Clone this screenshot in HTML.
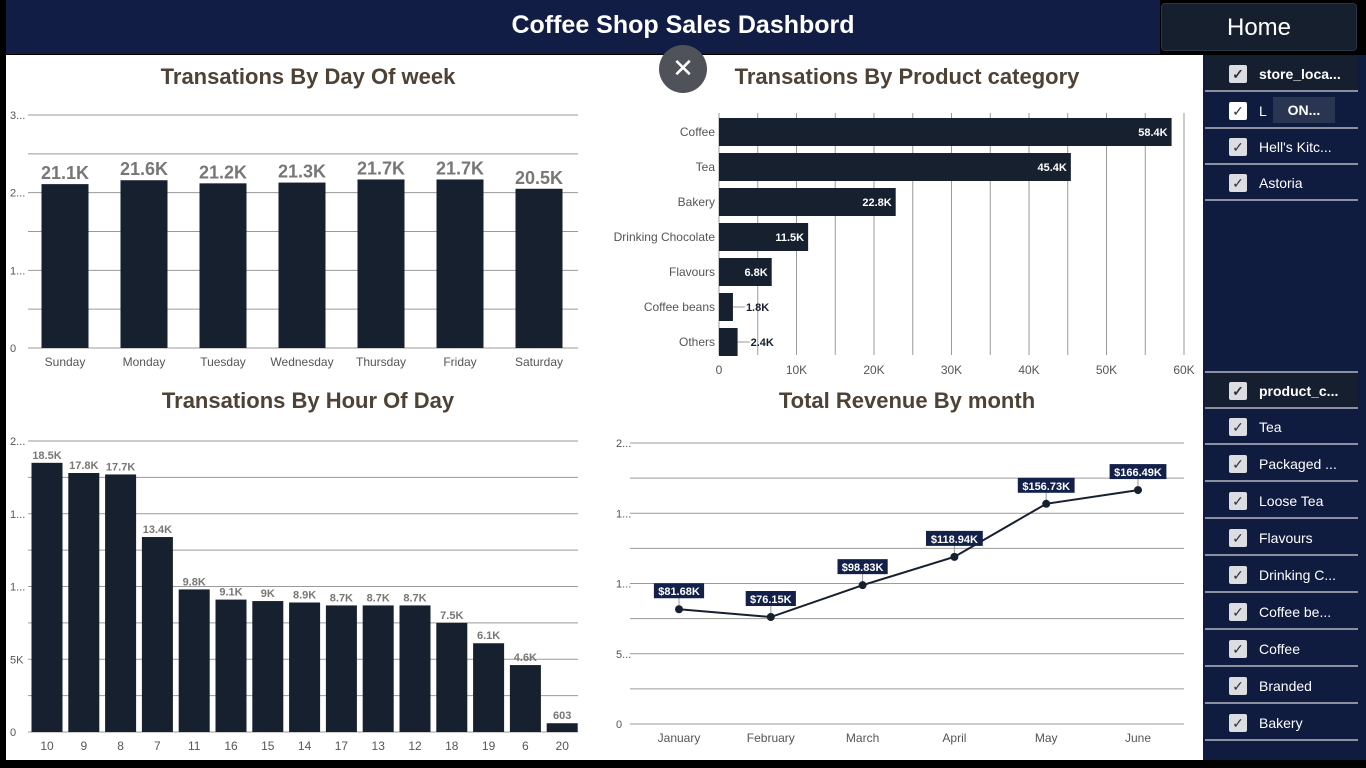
<!DOCTYPE html>
<html><head><meta charset="utf-8"><style>
body{margin:0;width:1366px;height:768px;background:#000;position:relative;overflow:hidden;font-family:"Liberation Sans",sans-serif}
.hdr{position:absolute;left:6px;top:0;width:1154px;height:54px;background:#111d45}
.hdrt{position:absolute;left:0;top:0;width:1366px;height:50px;color:#fff;font-weight:bold;font-size:25px;text-align:center;line-height:50px}
.home{position:absolute;left:1161px;top:3px;width:196px;height:48px;background:#161f2e;border:1px solid #2c3546;border-radius:4px;color:#fff;font-size:24px;text-align:center;line-height:48px;box-sizing:border-box}
.main{position:absolute;left:6px;top:55px;width:1197px;height:705px;background:#fff}
.panel{position:absolute;left:1203px;top:55px;width:163px;height:705px;background:#101b40}
.item{position:absolute;left:2px;width:153px;height:36px;border-bottom:2px solid #8a90a0;color:#fff;font-size:14px;line-height:36px;box-sizing:border-box}
.item .cb{position:absolute;left:24px;top:9px;width:18px;height:18px;background:#dcdde2;border-radius:2px;color:#333;font-size:14px;line-height:18px;text-align:center}
.item span.t{position:absolute;left:54px}
.sh{background:#161f30;font-weight:bold}
.close{position:absolute;left:659px;top:45px;width:48px;height:48px;border-radius:50%;background:#505259;color:#fff;font-size:26px;text-align:center;line-height:46px}
svg text{font-family:"Liberation Sans",sans-serif}
</style></head><body>
<div class="hdr"></div>
<div class="hdrt">Coffee Shop Sales Dashbord</div>
<div class="home">Home</div>
<div class="main"></div>
<svg id="s" width="1366" height="768" style="position:absolute;left:0;top:0"></svg>
<div class="close">✕</div>
<div class="panel">
 <div class="item sh" style="top:1px"><div class="cb">✓</div><span class="t">store_loca...</span></div>
 <div class="item" style="top:38px"><div class="cb" style="background:#fff">✓</div><span class="t">L</span><span style="position:absolute;left:68px;top:4px;width:62px;height:26px;background:#2a3552;line-height:26px;text-align:center;font-weight:bold">ON...</span></div>
 <div class="item" style="top:74px"><div class="cb">✓</div><span class="t">Hell's Kitc...</span></div>
 <div class="item" style="top:110px"><div class="cb">✓</div><span class="t">Astoria</span></div>
 <div class="item" style="top:282px;height:36px;border-bottom:2px solid #8a90a0"></div>
 <div class="item sh" style="top:318px"><div class="cb">✓</div><span class="t">product_c...</span></div>
 <div class="item" style="top:354px"><div class="cb">✓</div><span class="t">Tea</span></div>
 <div class="item" style="top:391px"><div class="cb">✓</div><span class="t">Packaged ...</span></div>
 <div class="item" style="top:428px"><div class="cb">✓</div><span class="t">Loose Tea</span></div>
 <div class="item" style="top:465px"><div class="cb">✓</div><span class="t">Flavours</span></div>
 <div class="item" style="top:502px"><div class="cb">✓</div><span class="t">Drinking C...</span></div>
 <div class="item" style="top:539px"><div class="cb">✓</div><span class="t">Coffee be...</span></div>
 <div class="item" style="top:576px"><div class="cb">✓</div><span class="t">Coffee</span></div>
 <div class="item" style="top:613px"><div class="cb">✓</div><span class="t">Branded</span></div>
 <div class="item" style="top:650px"><div class="cb">✓</div><span class="t">Bakery</span></div>
</div>
<script>
const dayCats=["Sunday","Monday","Tuesday","Wednesday","Thursday","Friday","Saturday"];
const dayVals=[21.1,21.6,21.2,21.3,21.7,21.7,20.5];
const dayLabels=["21.1K","21.6K","21.2K","21.3K","21.7K","21.7K","20.5K"];
const catNames=["Coffee","Tea","Bakery","Drinking Chocolate","Flavours","Coffee beans","Others"];
const catVals=[58.4,45.4,22.8,11.5,6.8,1.8,2.4];
const catLabels=["58.4K","45.4K","22.8K","11.5K","6.8K","1.8K","2.4K"];
const catTicks=["0","10K","20K","30K","40K","50K","60K"];
const hourCats=["10","9","8","7","11","16","15","14","17","13","12","18","19","6","20"];
const hourVals=[18.5,17.8,17.7,13.4,9.8,9.1,9.0,8.9,8.7,8.7,8.7,7.5,6.1,4.6,0.603];
const hourLabels=["18.5K","17.8K","17.7K","13.4K","9.8K","9.1K","9K","8.9K","8.7K","8.7K","8.7K","7.5K","6.1K","4.6K","603"];
const months=["January","February","March","April","May","June"];
const revVals=[81.68,76.15,98.83,118.94,156.73,166.49];
const revLabels=["$81.68K","$76.15K","$98.83K","$118.94K","$156.73K","$166.49K"];
const s=document.getElementById('s');const NS="http://www.w3.org/2000/svg";
function el(t,a,txt){const e=document.createElementNS(NS,t);for(const k in a)e.setAttribute(k,a[k]);if(txt!==undefined)e.textContent=txt;s.appendChild(e);return e;}
const title="#4e4236",dark="#16202f",grid="#9a9a9a",lbl="#555";
function T(x,y,t,n){const e=el('text',{x:x,y:y,'text-anchor':'middle','font-size':22,'font-weight':'bold',fill:title},t);}
T(308,84,"Transations By Day Of week","day-chart-title");
T(907,84,"Transations By Product category","category-chart-title");
T(308,408,"Transations By Hour Of Day","hour-chart-title");
T(907,408,"Total Revenue By month","revenue-chart-title");
// chart1
{const y0=348,y1=115,max=30,x0=28,x1=578;const Y=v=>y0-v/max*(y0-y1);
for(let i=0;i<=6;i++){const v=i*5;el('line',{x1:x0,x2:x1,y1:Y(v),y2:Y(v),stroke:grid,'stroke-width':1});}
[["0",0],["1...",10],["2...",20],["3...",30]].forEach(t=>el('text',{x:10,y:Y(t[1])+4,'font-size':11,fill:lbl},t[0]));
const step=79;dayCats.forEach((c,i)=>{const cx=65+i*step;const b=el('rect',{x:cx-23.5,y:Y(dayVals[i]),width:47,height:y0-Y(dayVals[i]),fill:dark});

el('text',{x:cx,y:Y(dayVals[i])-5,'text-anchor':'middle','font-size':18,'font-weight':'bold',fill:'#777'},dayLabels[i]);
el('text',{x:cx,y:366,'text-anchor':'middle','font-size':12,fill:lbl},c);});}
// chart2
{const x0=719,x1=1184,max=60,top=113,bot=355;const X=v=>x0+v/max*(x1-x0);
for(let v=0;v<=60;v+=5)el('line',{x1:X(v),x2:X(v),y1:top,y2:bot,stroke:grid,'stroke-width':1});
catTicks.forEach((t,i)=>el('text',{x:X(i*10),y:374,'text-anchor':'middle','font-size':12,fill:lbl},t));
catNames.forEach((c,i)=>{const cy=132+i*35;const w=X(catVals[i])-x0;const b=el('rect',{x:x0,y:cy-14,width:w,height:28,fill:dark});

el('text',{x:x0-4,y:cy+4,'text-anchor':'end','font-size':12,fill:lbl},c);
if(w>40)el('text',{x:X(catVals[i])-4,y:cy+4,'text-anchor':'end','font-size':11,'font-weight':'bold',fill:'#fff'},catLabels[i]);
else{el('line',{x1:X(catVals[i]),x2:X(catVals[i])+12,y1:cy,y2:cy,stroke:'#999'});el('text',{x:X(catVals[i])+13,y:cy+4,'font-size':11,'font-weight':'bold',fill:dark},catLabels[i]);}});}
// chart3
{const y0=732,y1=441,max=20,x0=28,x1=578;const Y=v=>y0-v/max*(y0-y1);
for(let v=0;v<=20;v+=2.5)el('line',{x1:x0,x2:x1,y1:Y(v),y2:Y(v),stroke:grid,'stroke-width':1});
[["0",0],["5K",5],["1...",10],["1...",15],["2...",20]].forEach(t=>el('text',{x:10,y:Y(t[1])+4,'font-size':11,fill:lbl},t[0]));
const step=36.8;hourCats.forEach((c,i)=>{const cx=47+i*step;const b=el('rect',{x:cx-15.5,y:Y(hourVals[i]),width:31,height:y0-Y(hourVals[i]),fill:dark});

el('text',{x:cx,y:Y(hourVals[i])-4,'text-anchor':'middle','font-size':11,'font-weight':'bold',fill:'#777'},hourLabels[i]);
el('text',{x:cx,y:750,'text-anchor':'middle','font-size':12,fill:lbl},c);});}
// chart4
{const y0=724,y1=443,max=200,x0=630,x1=1184;const Y=v=>y0-v/max*(y0-y1);
for(let v=0;v<=200;v+=25)el('line',{x1:x0,x2:x1,y1:Y(v),y2:Y(v),stroke:grid,'stroke-width':1});
[["0",0],["5...",50],["1...",100],["1...",150],["2...",200]].forEach(t=>el('text',{x:616,y:Y(t[1])+4,'font-size':11,fill:lbl},t[0]));
const X=i=>679+i*91.8;
const ln=el('polyline',{points:revVals.map((v,i)=>X(i)+','+Y(v)).join(' '),fill:'none',stroke:dark,'stroke-width':2});

months.forEach((m,i)=>{const x=X(i),y=Y(revVals[i]);el('text',{x:x,y:742,'text-anchor':'middle','font-size':12,fill:lbl},m);
el('line',{x1:x,x2:x,y1:y,y2:y-12,stroke:'#999'});
const w=revLabels[i].length*6.6+4;el('rect',{x:x-w/2,y:y-26,width:w,height:15,fill:'#13204a'});
el('text',{x:x,y:y-14,'text-anchor':'middle','font-size':11,'font-weight':'bold',fill:'#fff'},revLabels[i]);
const p=el('circle',{cx:x,cy:y,r:4,fill:dark});});}
</script>
</body></html>
